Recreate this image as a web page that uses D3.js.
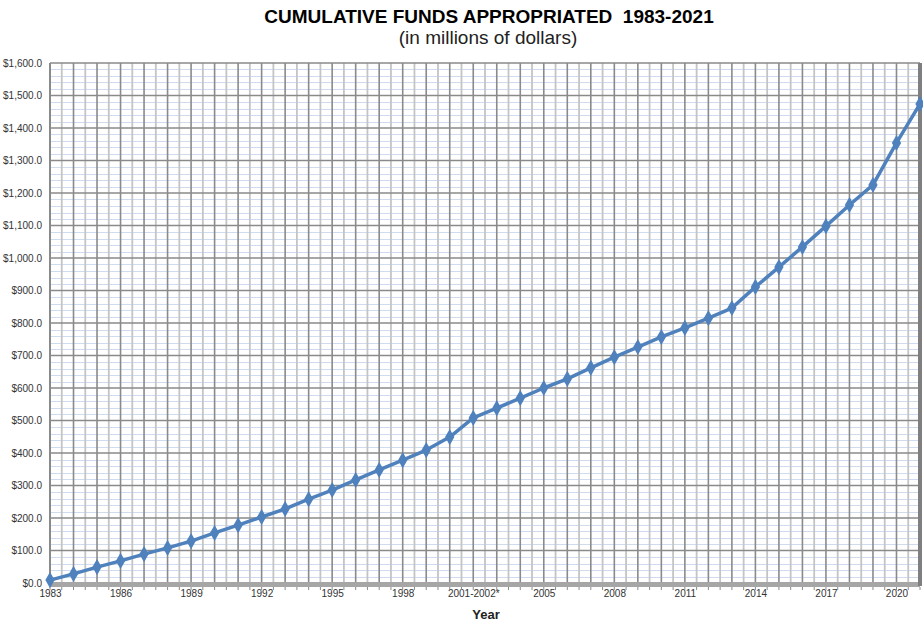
<!DOCTYPE html>
<html>
<head>
<meta charset="utf-8">
<script src="https://cdn.jsdelivr.net/npm/d3@7"></script>
<style>
	body { margin:0; background:#fff; font-family: "Liberation Sans", Arial, sans-serif; }
	svg text { fill:#333; }
</style>
</head>
<body>
<svg width="923" height="622"></svg>
<script>
(function() {

	// DATA
	var years = ['1983','1984','1985','1986','1987','1988','1989','1990','1991','1992',
		'1993','1994','1995','1996','1997','1998','1999','2000','2001-2002*','2003',
		'2004','2005','2006','2007','2008','2009','2010','2011','2012','2013',
		'2014','2015','2016','2017','2018','2019','2020','2021'];
	var funds = [9, 28, 49, 68, 89, 108, 129, 154, 178, 203,
		228, 258, 286, 317, 348, 378, 409, 449, 508, 538,
		569, 600, 628, 662, 695, 726, 757, 785, 815, 846,
		911, 972, 1034, 1098, 1163, 1225, 1354, 1474];
	var yTicks = [0, 100, 200, 300, 400, 500, 600, 700, 800, 900, 1000, 1100, 1200, 1300, 1400, 1500, 1600];

	var margin = { top:63, bottom:39, left:50, right:3 };
	var width = 923 - margin.left - margin.right;
	var height = 622 - margin.top - margin.bottom;

	var svg = d3.select('svg');

	svg.append('text')
		.attr('x', 489).attr('y', 23)
		.attr('text-anchor', 'middle')
		.style('white-space', 'pre')
		.style('font-size', '19px').style('font-weight', 'bold').style('fill', '#000')
		.text('CUMULATIVE FUNDS APPROPRIATED  1983-2021');

	svg.append('text')
		.attr('x', 488).attr('y', 44)
		.attr('text-anchor', 'middle')
		.style('font-size', '19px').style('fill', '#222')
		.text('(in millions of dollars)');

	var g = svg.append('g')
		.attr('transform', 'translate(' + margin.left + ',' + margin.top + ')');

	var x = d3.scalePoint().domain(years).range([0, width]);
	var y = d3.scaleLinear().domain([0, 1600]).range([height, 0]);
	var step = x.step();

	// minor horizontal grid
	var minor = d3.range(0, 1600, 20).filter(function(v) { return v % 100 !== 0; });
	g.append('g').selectAll('line').data(minor).enter().append('line')
		.attr('x1', 0).attr('x2', width)
		.attr('y1', function(d) { return Math.round(y(d)) + 0.5; })
		.attr('y2', function(d) { return Math.round(y(d)) + 0.5; })
		.attr('stroke', '#cfdcf0')
		.attr('stroke-width', 1);

	// half-step vertical grid
	var halfs = d3.range(0, years.length - 1).map(function(i) { return x(years[i]) + step / 2; });
	g.append('g').selectAll('line').data(halfs).enter().append('line')
		.attr('x1', function(d) { return d; }).attr('x2', function(d) { return d; })
		.attr('y1', 0).attr('y2', height)
		.attr('stroke', '#c4c4c4').attr('stroke-width', 1.8);

	// major vertical grid
	g.append('g').selectAll('line').data(years).enter().append('line')
		.attr('x1', function(d) { return x(d); }).attr('x2', function(d) { return x(d); })
		.attr('y1', 0).attr('y2', height)
		.attr('stroke', '#8a8a8a').attr('stroke-width', 1.6);

	// major horizontal grid
	g.append('g').selectAll('line').data(yTicks).enter().append('line')
		.attr('x1', 0).attr('x2', width)
		.attr('y1', function(d) { return y(d); }).attr('y2', function(d) { return y(d); })
		.attr('stroke', '#8a8a8a').attr('stroke-width', 1.6);

	// frame: floor and right wall
	g.append('rect')
		.attr('x', 0).attr('y', height - 1)
		.attr('width', width).attr('height', 5)
		.attr('fill', '#a6a6a6');
	g.append('rect')
		.attr('x', width - 2).attr('y', 0)
		.attr('width', 4).attr('height', height + 3)
		.attr('fill', '#7f7f7f');
	g.append('line')
		.attr('x1', 0).attr('x2', 0).attr('y1', 0).attr('y2', height + 4)
		.attr('stroke', '#8a8a8a').attr('stroke-width', 2);

	// axes
	var yAxis = g.append('g')
		.call(d3.axisLeft(y).tickValues(yTicks).tickSize(0).tickPadding(8)
			.tickFormat(function(d) { return '$' + d3.format(',.1f')(d); }));
	yAxis.select('.domain').remove();
	yAxis.selectAll('text').style('font-size', '10px').style('fill', '#333')
		.style('font-family', '"Liberation Sans", Arial, sans-serif');

	var xAxis = g.append('g')
		.attr('transform', 'translate(0,' + (height + 4) + ')')
		.call(d3.axisBottom(x).tickSize(0).tickPadding(3)
			.tickValues(years.filter(function(d, i) { return i % 3 === 0; })));
	xAxis.select('.domain').remove();
	xAxis.selectAll('text').style('font-size', '10px').style('fill', '#333')
		.style('font-family', '"Liberation Sans", Arial, sans-serif');

	// small ticks under the floor
	var tickPos = d3.range(0, years.length * 2 - 1).map(function(i) { return i * step / 2; });
	g.append('g').selectAll('line').data(tickPos).enter().append('line')
		.attr('x1', function(d) { return d; }).attr('x2', function(d) { return d; })
		.attr('y1', height + 4).attr('y2', height + 7)
		.attr('stroke', '#8a8a8a').attr('stroke-width', 1);

	svg.append('text')
		.attr('x', 486).attr('y', 619)
		.attr('text-anchor', 'middle')
		.style('font-size', '13px').style('font-weight', 'bold').style('fill', '#222')
		.text('Year');

	// line + markers
	var line = d3.line()
		.x(function(d, i) { return x(years[i]); })
		.y(function(d) { return y(d); });

	g.append('path')
		.datum(funds)
		.attr('d', line)
		.attr('fill', 'none')
		.attr('stroke', '#4f81bd')
		.attr('stroke-width', 3.5)
		.attr('stroke-linejoin', 'round');

	g.append('g').selectAll('path').data(funds).enter().append('path')
		.attr('d', d3.symbol().type(d3.symbolDiamond).size(75))
		.attr('transform', function(d, i) { return 'translate(' + x(years[i]) + ',' + y(d) + ')'; })
		.attr('fill', '#4f81bd');

})()
</script>
</body>
</html>
